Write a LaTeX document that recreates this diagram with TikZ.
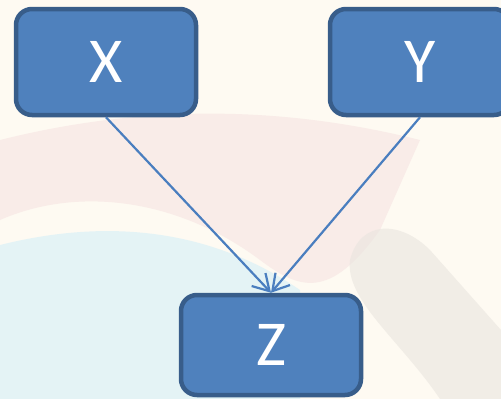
\documentclass[tikz,border=0pt]{standalone}
\usepackage{fontspec}
\setmainfont{Carlito}
\usetikzlibrary{arrows.meta,positioning}

\definecolor{boxfill}{HTML}{4F81BD}
\definecolor{boxline}{HTML}{385D8A}
\definecolor{arrowcol}{HTML}{4A7EBF}
\definecolor{paper}{HTML}{FEFAF2}
\definecolor{pinkwash}{HTML}{F6E3E2}
\definecolor{bluewash}{HTML}{E2F3F6}
\definecolor{graywash}{HTML}{E9E5DF}

\begin{document}
\begin{tikzpicture}[
    x=1pt, y=-1pt,
    block/.style={rectangle, draw=boxline, fill=boxfill, line width=4.5pt, rounded corners=16pt, minimum width=180pt, minimum height=106pt, text=white, font=\fontsize{64}{64}\selectfont, inner sep=0pt},
    smallblock/.style={block, minimum height=100pt},
    arrow/.style={draw=arrowcol, line width=2.2pt, -{Straight Barb[length=16pt,width=19pt,line width=2.2pt]}}
]

% background wash
\fill [paper] (0,0) rectangle (501,399);
\fill [pinkwash, opacity=0.6] (0,140) .. controls (120,110) and (260,100) .. (420,140) -- (380,230) .. controls (330,300) and (300,290) .. (260,260) .. controls (180,200) and (80,185) .. (0,220) -- cycle;
\fill [bluewash, opacity=0.9] (0,245) .. controls (120,215) and (220,235) .. (300,290) -- (300,399) -- (0,399) -- cycle;
\fill [graywash, opacity=0.6] (350,260) .. controls (360,220) and (400,220) .. (430,250) -- (501,330) -- (501,399) -- (440,399) .. controls (400,340) and (345,300) .. (350,260) -- cycle;
\useasboundingbox (0,0) rectangle (501,399);

% causes
\node [block] (x) at (106,62) {X};
\node [block] (y) at (420,62) {Y};

% effect
\node [smallblock] (z) at (271,345) {Z};

% arrows
\draw [arrow] (x.south) -- (z.north);
\draw [arrow] (y.south) -- (z.north);

\end{tikzpicture}
\end{document}
